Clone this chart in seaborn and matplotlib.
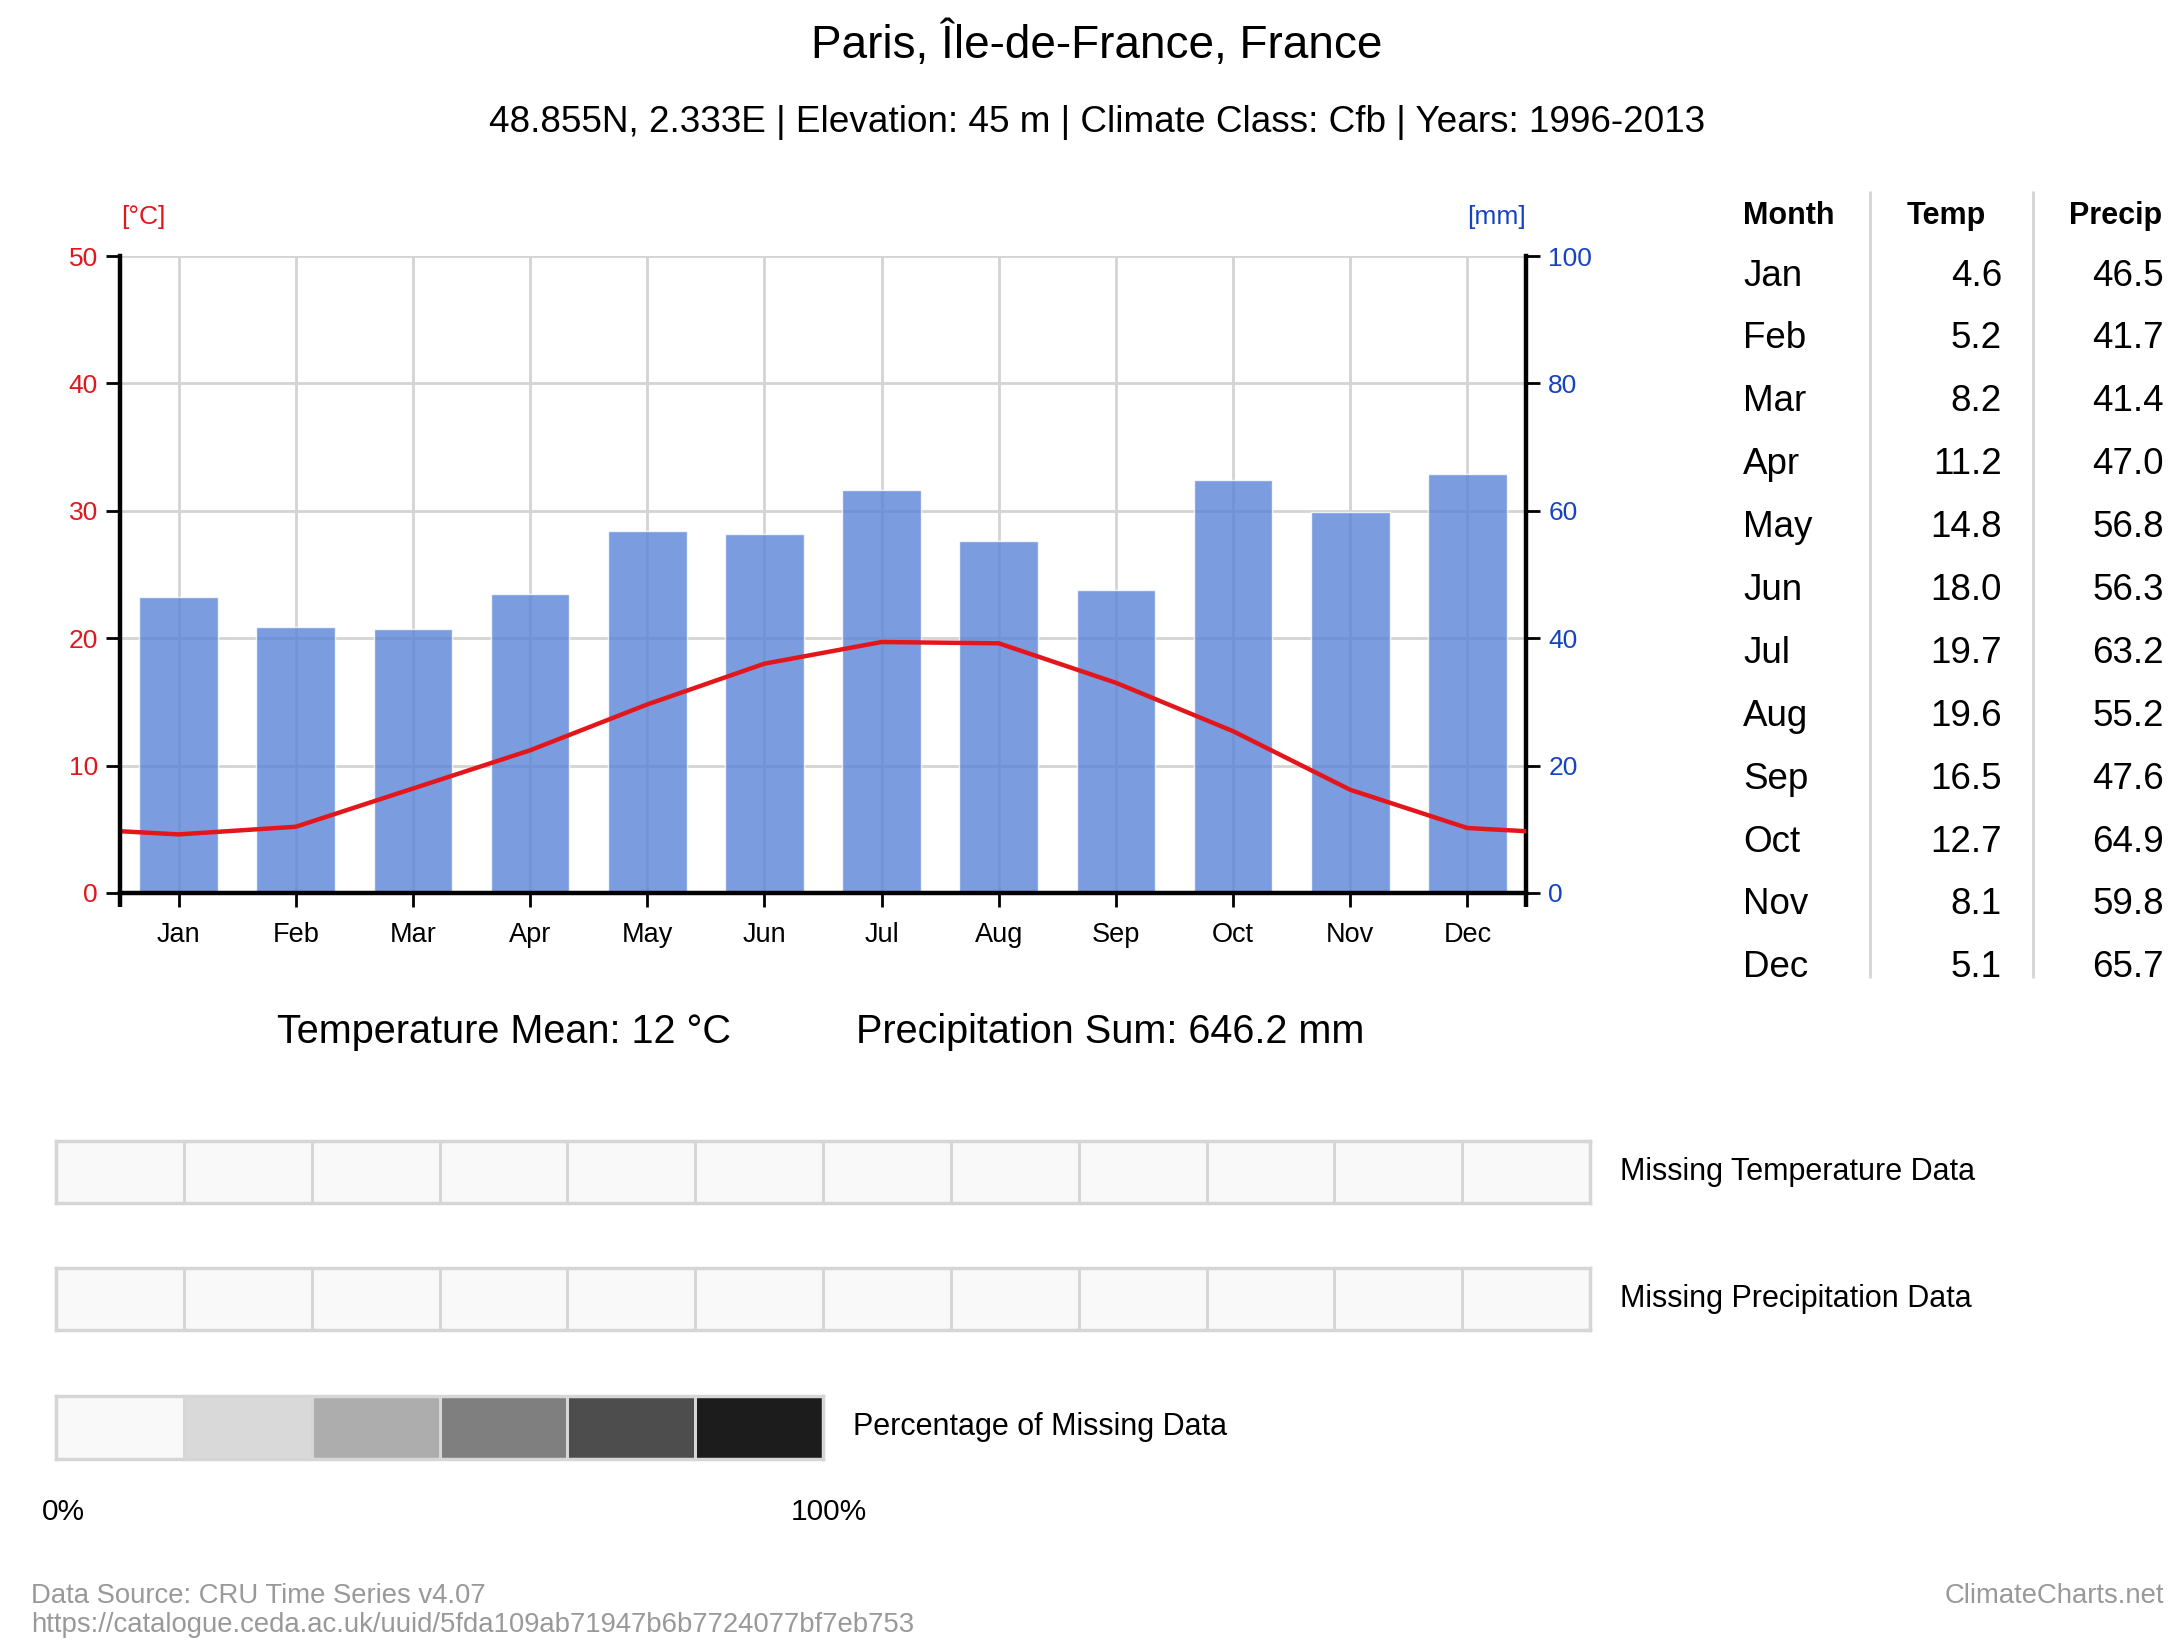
import numpy as np
import pandas as pd
import seaborn as sns
import matplotlib.pyplot as plt
from matplotlib.colors import ListedColormap

# climate data
months = ['Jan', 'Feb', 'Mar', 'Apr', 'May', 'Jun',
          'Jul', 'Aug', 'Sep', 'Oct', 'Nov', 'Dec']
temp = [4.6, 5.2, 8.2, 11.2, 14.8, 18.0, 19.7, 19.6, 16.5, 12.7, 8.1, 5.1]
precip = [46.5, 41.7, 41.4, 47.0, 56.8, 56.3, 63.2, 55.2, 47.6, 64.9, 59.8, 65.7]
missing_temp = [0] * 12
missing_precip = [0] * 12
missing_levels = [0, 1, 2, 3, 4, 5]
precip_sum_text = '646.2'

title = 'Paris, Île-de-France, France'
subtitle = '48.855N, 2.333E | Elevation: 45 m | Climate Class: Cfb | Years: 1996-2013'

sns.set_theme(style='white')
plt.rcParams['font.family'] = ['Liberation Sans', 'DejaVu Sans']
plt.rcParams['text.color'] = 'black'
plt.rcParams['xtick.color'] = 'black'
plt.rcParams['ytick.color'] = 'black'

W, H = 2184, 1643
fig = plt.figure(figsize=(W / 100, H / 100), dpi=100)


def fx(x):
    return x / W


def fy(y):
    return 1 - y / H


def box(x0, y0, x1, y1):
    return [fx(x0), fy(y1), fx(x1) - fx(x0), fy(y0) - fy(y1)]


RED = '#e3161b'
BLUE = '#1743c0'
GRID = '#d4d4d4'

# titles
fig.text(fx(1097), fy(45), title, ha='center', va='center', fontsize=33)
fig.text(fx(1097), fy(123), subtitle, ha='center', va='center', fontsize=26.6)

# main climate chart
df = pd.DataFrame({'Month': months, 'Temp': temp, 'Precip': precip})
ax = fig.add_axes(box(120, 256, 1526, 893))
ax2 = ax.twinx()
ax.set_zorder(ax2.get_zorder() + 1)
ax.patch.set_visible(False)

sns.barplot(data=df, x='Month', y='Precip', ax=ax2, color='#5a83d6',
            alpha=0.8, width=0.67, saturation=1)
ax2.set_ylim(0, 100)
ax2.set_yticks(range(0, 101, 20))

ax.set_xlim(-0.5, 11.5)
ax.set_ylim(0, 50)
ax2.set_xlim(-0.5, 11.5)
ax.set_yticks(range(0, 51, 10))

# grid lines drawn under the bars
ax2.grid(False)
for yv in range(10, 51, 10):
    ax2.axhline(yv * 2, color=GRID, lw=2, zorder=0)
for i in range(len(months)):
    ax2.axvline(i, color=GRID, lw=2, zorder=0)

# temperature line, wrapping to the chart edges
edge = (temp[0] + temp[-1]) / 2
line_x = [-0.5] + list(range(12)) + [11.5]
line_y = [edge] + temp + [edge]
sns.lineplot(x=line_x, y=line_y, ax=ax, color=RED, lw=3.2, sort=False)

for a in (ax, ax2):
    for s in a.spines.values():
        s.set_visible(False)
    a.set_xlabel('')
    a.set_ylabel('')
ax.spines['left'].set_visible(True)
ax.spines['bottom'].set_visible(True)
ax2.spines['right'].set_visible(True)
for s in (ax.spines['left'], ax.spines['bottom'], ax2.spines['right']):
    s.set_color('black')
    s.set_linewidth(3.2)

ax.set_xticks(range(12))
ax.set_xticklabels(months)
ax.tick_params(axis='x', length=10, width=2, color='black', labelsize=19.5,
               pad=11, bottom=True)
ax.set_xticks([-0.5, 11.5], minor=True)
ax.tick_params(axis='x', which='minor', length=10, width=3.2, color='black',
               bottom=True)
ax.tick_params(axis='y', length=10, width=2, color='black', labelsize=19,
               labelcolor=RED, left=True, pad=6)
ax2.tick_params(axis='y', length=10, width=2, color='black', labelsize=19,
                labelcolor=BLUE, right=True, pad=6)
ax2.tick_params(axis='x', bottom=False, labelbottom=False)

fig.text(fx(121), fy(217), '[°C]', color=RED, fontsize=19, ha='left', va='center')
fig.text(fx(1526), fy(217), '[mm]', color=BLUE, fontsize=19, ha='right', va='center')

# summary
fig.text(fx(504), fy(1032), f'Temperature Mean: {np.mean(temp):.0f} °C',
         ha='center', va='center', fontsize=28.5)
fig.text(fx(1110), fy(1032), f'Precipitation Sum: {precip_sum_text} mm',
         ha='center', va='center', fontsize=28.5)

# table
row0, step = 276, 62.9
fig.text(fx(1743), fy(216), 'Month', fontsize=22, fontweight='bold', ha='left', va='center')
fig.text(fx(1986), fy(216), 'Temp', fontsize=22, fontweight='bold', ha='right', va='center')
fig.text(fx(2162), fy(216), 'Precip', fontsize=22, fontweight='bold', ha='right', va='center')
for i, m in enumerate(months):
    yy = fy(row0 + i * step)
    fig.text(fx(1743), yy, m, fontsize=26.5, ha='left', va='center')
    fig.text(fx(2002), yy, f'{temp[i]:.1f}', fontsize=26.5, ha='right', va='center')
    fig.text(fx(2164), yy, f'{precip[i]:.1f}', fontsize=26.5, ha='right', va='center')
for xs in (1870, 2033):
    fig.add_artist(plt.Line2D([fx(xs), fx(xs)], [fy(192), fy(977)],
                              color=GRID, lw=2))

# missing data strips
grey_cmap = ListedColormap(['#f9f9f9', '#d9d9d9', '#adadad', '#7f7f7f',
                            '#4d4d4d', '#1c1c1c'])
strips = [
    (missing_temp, box(56, 1141, 1590, 1203), 'Missing Temperature Data'),
    (missing_precip, box(56, 1268, 1590, 1330), 'Missing Precipitation Data'),
    (missing_levels, box(56, 1396, 823, 1459), 'Percentage of Missing Data'),
]
for vals, rect, label in strips:
    hax = fig.add_axes(rect)
    sns.heatmap(np.array([vals]), ax=hax, cmap=grey_cmap, vmin=-0.5, vmax=5.5,
                cbar=False, linewidths=2, linecolor='#d6d6d6',
                xticklabels=False, yticklabels=False)
    for s in hax.spines.values():
        s.set_visible(True)
        s.set_color('#d6d6d6')
        s.set_linewidth(2.5)
    fig.text(rect[0] + rect[2] + fx(30), rect[1] + rect[3] / 2, label,
             fontsize=22, ha='left', va='center')

fig.text(fx(42), fy(1512), '0%', fontsize=21.5, ha='left', va='center')
fig.text(fx(829), fy(1512), '100%', fontsize=21.5, ha='center', va='center')

# footer
fig.text(fx(31), fy(1596), 'Data Source: CRU Time Series v4.07', color='#999999',
         fontsize=19.8, ha='left', va='center')
fig.text(fx(31), fy(1625), 'https://catalogue.ceda.ac.uk/uuid/5fda109ab71947b6b7724077bf7eb753',
         color='#999999', fontsize=19.8, ha='left', va='center')
fig.text(fx(2164), fy(1596), 'ClimateCharts.net', color='#999999',
         fontsize=19.8, ha='right', va='center')

fig.savefig('out.png', dpi=100, facecolor='white')
